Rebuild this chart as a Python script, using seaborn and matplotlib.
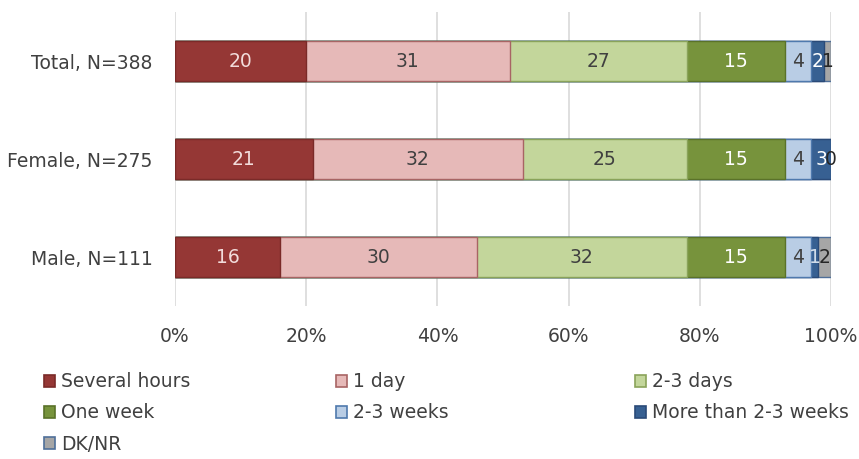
import matplotlib
matplotlib.use("Agg")
import matplotlib.pyplot as plt
from matplotlib.patches import Patch
import numpy as np
import pandas as pd
import seaborn as sns

groups = ["Total, N=388", "Female, N=275", "Male, N=111"]
series = ["Several hours", "1 day", "2-3 days", "One week", "2-3 weeks",
          "More than 2-3 weeks", "DK/NR"]
several_hours = [20, 21, 16]
one_day = [31, 32, 30]
two_three_days = [27, 25, 32]
one_week = [15, 15, 15]
two_three_weeks = [4, 4, 4]
more_than = [2, 3, 1]
dk_nr = [1, 0, 2]
xticks = [0, 20, 40, 60, 80, 100]

values = [several_hours, one_day, two_three_days, one_week, two_three_weeks,
          more_than, dk_nr]
fills = ["#953735", "#e6b9b8", "#c3d69b", "#77933c", "#b9cde5", "#376092", "#a6a6a6"]
edges = ["#7a2a28", "#a86464", "#8aa35a", "#5a7229", "#4f79ad", "#2a4a78", "#4f6f99"]
label_colors = ["#f2dcdb", "#404040", "#404040", "#ffffff", "#404040", "#ffffff", "#404040"]

sns.set_theme(style="white")
plt.rcParams["font.family"] = ["DejaVu Sans"]
FS = 13.5

fig = plt.figure(figsize=(8.59, 4.59), dpi=100)
ax = fig.add_axes([0.2037, 0.3333, 0.7637, 0.6405])

df = pd.DataFrame({s: v for s, v in zip(series, values)}, index=groups)
cum = df.cumsum(axis=1)

# Stack by overdrawing cumulative totals, longest first
for i in range(len(series) - 1, -1, -1):
    s = series[i]
    d = pd.DataFrame({"group": groups, "value": cum[s].values})
    sns.barplot(data=d, y="group", x="value", orient="h", ax=ax,
                color=fills[i], saturation=1, width=0.41,
                edgecolor=edges[i], linewidth=1.0, zorder=2)

# Segment value labels
for i, s in enumerate(series):
    starts = (cum[s] - df[s]).values
    for j, g in enumerate(groups):
        v = df[s].values[j]
        xc = starts[j] + v / 2
        col = label_colors[i]
        if s == "DK/NR" or (s == "More than 2-3 weeks" and v < 2):
            col = "#262626" if s == "DK/NR" else "#d0dcea"
        ax.text(xc, j, f"{v}", ha="center", va="center", fontsize=FS,
                color=col, zorder=5)

ax.set_xlim(0, 100)
ax.set_ylim(2.5, -0.5)
ax.set_xticks(xticks)
ax.set_xticklabels([f"{t}%" for t in xticks])
ax.set_xlabel("")
ax.set_ylabel("")
for sp in ax.spines.values():
    sp.set_visible(False)
ax.xaxis.grid(True, color="#d9d9d9", linewidth=1.2, zorder=0)
ax.set_axisbelow(True)
ax.tick_params(axis="x", length=0, pad=15, labelsize=FS, labelcolor="#404040")
ax.tick_params(axis="y", length=0, pad=16, labelsize=FS, labelcolor="#404040")

# Legend laid out in three columns
handles = [Patch(facecolor=fills[i], edgecolor=edges[i], linewidth=1.2, label=series[i])
           for i in range(len(series))]
cols = [[0, 3, 6], [1, 4], [2, 5]]
xs = [0.051, 0.391, 0.739]
for c, x0 in zip(cols, xs):
    leg = fig.legend(handles=[handles[k] for k in c], loc="upper left",
                     bbox_to_anchor=(x0, 0.189), frameon=False, ncol=1,
                     fontsize=FS, handlelength=0.62, handleheight=0.62,
                     handletextpad=0.32, labelspacing=0.65, borderaxespad=0,
                     borderpad=0)
    for t in leg.get_texts():
        t.set_color("#404040")

fig.savefig("out.png", dpi=100)
